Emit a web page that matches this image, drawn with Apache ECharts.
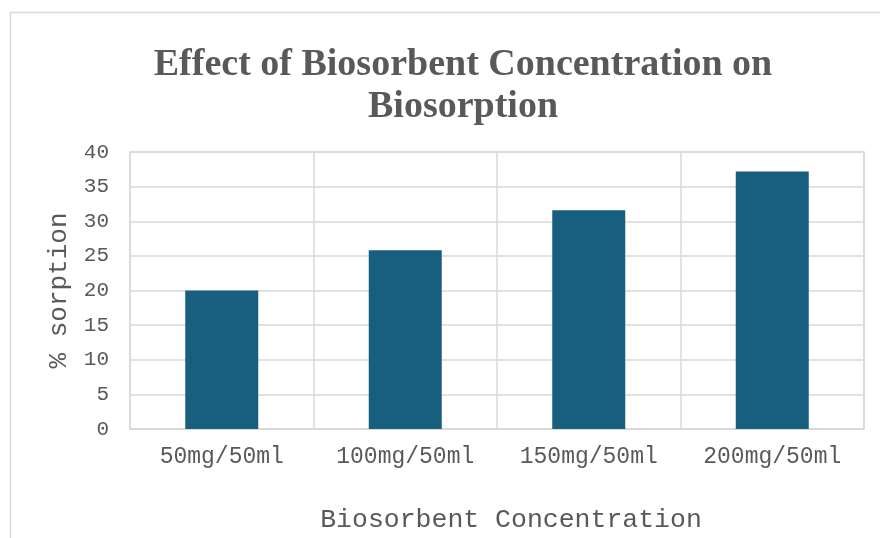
<!DOCTYPE html>
<html>
<head>
<meta charset="utf-8">
<script src="https://cdn.jsdelivr.net/npm/echarts@6/dist/echarts.min.js"></script>
<style>
  html, body, #main { margin: 0; padding: 0; width: 880px; height: 538px; overflow: hidden; background: #fff; }
</style>
</head>
<body>
<div id="main"></div>
<script>
// data
const categories = ["50mg/50ml", "100mg/50ml", "150mg/50ml", "200mg/50ml"];
const sorption = [20, 25.8, 31.6, 37.2];
const yTicks = { min: 0, max: 40, step: 5 };

const grey = "#595959";
const gridGrey = "#d9d9d9";
const mono = "'Liberation Mono', 'Courier New', monospace";

let myChart = echarts.init(document.getElementById("main"));
myChart.setOption({
  backgroundColor: "#fff",
  animation: false,
  // outer chart border (cut off at the right and bottom like the reference)
  graphic: [
    {
      type: "rect",
      shape: { x: 10.5, y: 12.5, width: 1000, height: 700 },
      style: { fill: "none", stroke: gridGrey, lineWidth: 1.5 },
      silent: true,
    },
  ],
  title: {
    text: "Effect of Biosorbent Concentration on\nBiosorption",
    left: 458,
    top: 39,
    textAlign: "center",
    textStyle: {
      fontFamily: "'Liberation Serif', 'Times New Roman', serif",
      fontWeight: "bold",
      fontSize: 38,
      lineHeight: 42,
      color: grey,
    },
  },
  grid: {
    left: 130,
    right: 16,
    top: 152,
    bottom: 106,
    show: true,
    borderColor: gridGrey,
    borderWidth: 1.5,
  },
  xAxis: {
    type: "category",
    data: categories,
    name: "Biosorbent Concentration",
    nameLocation: "middle",
    nameGap: 77,
    nameTextStyle: {
      fontFamily: mono,
      fontSize: 26.5,
      color: grey,
      padding: [0, 0, 0, 28],
    },
    axisLine: { lineStyle: { color: gridGrey, width: 1.5 } },
    axisTick: { show: false },
    axisLabel: { fontFamily: mono, fontSize: 23, color: grey, margin: 16 },
    splitLine: { show: true, lineStyle: { color: gridGrey, width: 1.5 } },
  },
  yAxis: {
    type: "value",
    min: yTicks.min,
    max: yTicks.max,
    interval: yTicks.step,
    name: "% sorption",
    nameLocation: "middle",
    nameGap: 58,
    nameTextStyle: { fontFamily: mono, fontSize: 26, color: grey },
    axisLine: { show: false },
    axisTick: { show: false },
    axisLabel: { fontFamily: mono, fontSize: 21, color: grey, margin: 21 },
    splitLine: { lineStyle: { color: gridGrey, width: 1.5 } },
  },
  series: [
    {
      name: "% sorption",
      type: "bar",
      data: sorption,
      barWidth: 73,
      itemStyle: { color: "#175e7f" },
    },
  ],
});
</script>
</body>
</html>
